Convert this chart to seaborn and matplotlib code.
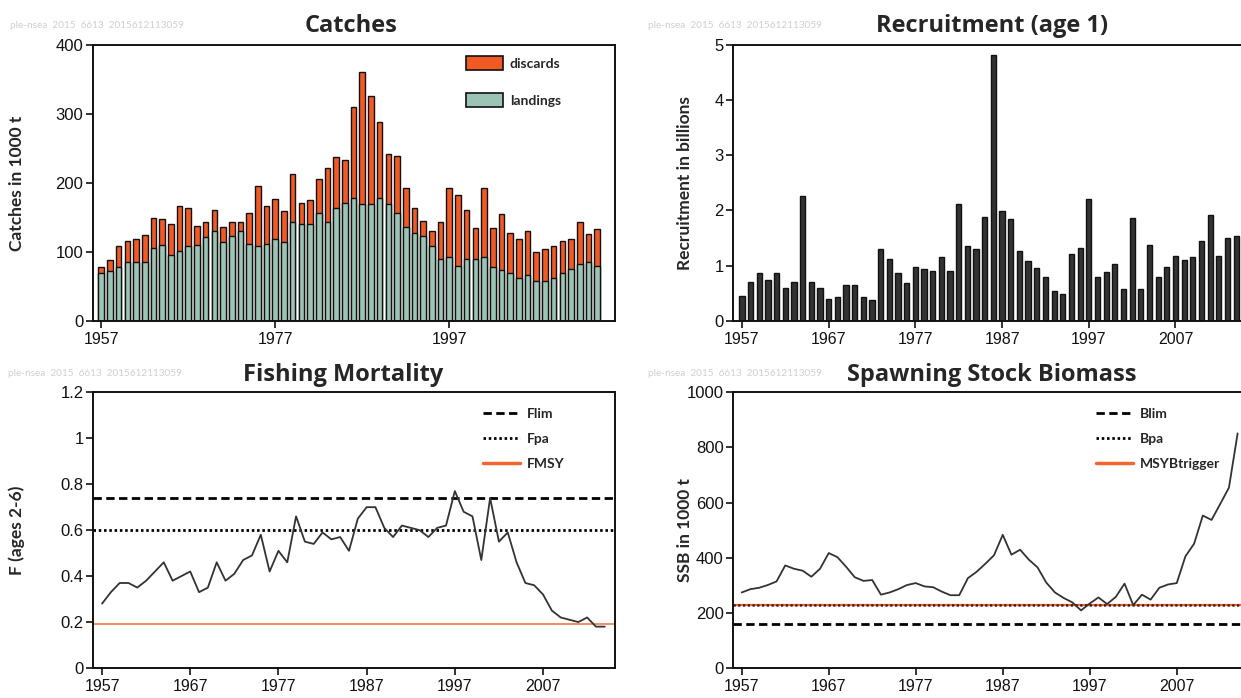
import numpy as np
import pandas as pd
import matplotlib
matplotlib.use("Agg")
import matplotlib.pyplot as plt
from matplotlib.patches import Patch
from matplotlib.lines import Line2D
import seaborn as sns

# ---------------- data ----------------
years = list(range(1957, 2015))

landings = [70, 72, 78, 86, 86, 86, 106, 110, 96, 102, 108, 110, 121, 130, 114, 123, 131, 112, 108, 112,
            118, 114, 144, 140, 140, 157, 144, 164, 171, 178, 169, 169, 178, 169, 157, 136, 128, 123, 108, 90,
            92, 80, 90, 90, 92, 78, 74, 70, 62, 66, 58, 58, 62, 70, 76, 82, 86, 80]
catches_total = [78, 88, 109, 116, 119, 124, 149, 147, 141, 167, 163, 138, 143, 161, 136, 143, 143, 157, 195, 167,
                 177, 159, 213, 171, 175, 205, 221, 237, 233, 310, 360, 326, 288, 242, 239, 193, 163, 145, 130, 143,
                 193, 183, 161, 135, 193, 135, 155, 128, 119, 130, 100, 104, 109, 116, 119, 143, 126, 133]

recruitment = [0.46, 0.71, 0.86, 0.75, 0.86, 0.60, 0.71, 2.27, 0.71, 0.60, 0.40, 0.43, 0.65, 0.65, 0.43, 0.38,
               1.31, 1.13, 0.86, 0.68, 0.98, 0.94, 0.91, 1.16, 0.91, 2.12, 1.36, 1.31, 1.89, 4.81, 1.99, 1.84,
               1.26, 1.09, 0.96, 0.80, 0.55, 0.48, 1.21, 1.33, 2.21, 0.80, 0.88, 1.03, 0.58, 1.86, 0.58, 1.38,
               0.80, 0.98, 1.18, 1.11, 1.16, 1.44, 1.91, 1.18, 1.51, 1.53]

fishing_mortality = [0.28, 0.33, 0.37, 0.37, 0.35, 0.38, 0.42, 0.46, 0.38, 0.40, 0.42, 0.33, 0.35, 0.46, 0.38, 0.41,
                     0.47, 0.49, 0.58, 0.42, 0.51, 0.46, 0.66, 0.55, 0.54, 0.59, 0.56, 0.57, 0.51, 0.65, 0.70, 0.70,
                     0.61, 0.57, 0.62, 0.61, 0.60, 0.57, 0.61, 0.62, 0.77, 0.68, 0.66, 0.47, 0.74, 0.55, 0.59, 0.46,
                     0.37, 0.36, 0.32, 0.25, 0.22, 0.21, 0.20, 0.22, 0.18, 0.18]

ssb = [274, 286, 291, 301, 314, 372, 360, 353, 331, 360, 417, 402, 367, 329, 316, 319, 266, 274, 286, 301,
       308, 296, 293, 277, 264, 264, 326, 349, 378, 409, 483, 411, 429, 393, 365, 310, 274, 254, 238, 209,
       234, 256, 232, 258, 306, 228, 266, 248, 291, 303, 308, 405, 451, 553, 537, 595, 654, 851]

Flim, Fpa, FMSY = 0.74, 0.60, 0.19
Blim, Bpa, MSYBtrigger = 160, 230, 230

catch_ticks = [1957, 1977, 1997]
decade_ticks = [1957, 1967, 1977, 1987, 1997, 2007]
watermark = "ple-nsea  2015  6613  2015612113059"

# ---------------- style ----------------
sns.set_style("ticks")
plt.rcParams['font.family'] = ['Liberation Sans', 'DejaVu Sans']
plt.rcParams['axes.linewidth'] = 1.4
plt.rcParams['xtick.major.width'] = 1.2
plt.rcParams['ytick.major.width'] = 1.2
plt.rcParams['xtick.major.size'] = 5
plt.rcParams['ytick.major.size'] = 5
plt.rcParams['xtick.direction'] = 'out'
plt.rcParams['ytick.direction'] = 'out'

W, H = 1241, 698
fig = plt.figure(figsize=(W / 100, H / 100), dpi=100)

def px_axes(x0, y0, x1, y1):
    return fig.add_axes([x0 / W, 1 - y1 / H, (x1 - x0) / W, (y1 - y0) / H])

ORANGE = "#f15a24"
GREEN = "#9cc4b4"
TITLE_FONT = dict(family=['Open Sans', 'DejaVu Sans'], weight='bold')
LABEL_FONT = dict(family=['Lato', 'DejaVu Sans'], weight='bold')
LEG_PROP = dict(family=['Lato'], weight='bold', size=10)
XT, YT = 11.5, 12

df_c = pd.DataFrame({"year": years, "landings": landings, "total": catches_total})
df_r = pd.DataFrame({"year": years, "recruitment": recruitment})
df_f = pd.DataFrame({"year": years, "F": fishing_mortality})
df_s = pd.DataFrame({"year": years, "SSB": ssb})

def style_axes(ax, right=True):
    for s in ['left', 'bottom', 'top', 'right']:
        ax.spines[s].set_visible(True)
        ax.spines[s].set_color('#111111')
    if not right:
        ax.spines['right'].set_visible(False)
    ax.tick_params(axis='x', labelsize=XT, colors='#111111', pad=3)
    ax.tick_params(axis='y', labelsize=YT, colors='#111111', pad=2)
    ax.grid(False)

def ylabel(ax, text, xpx, ypx):
    ax.set_ylabel(text, fontsize=12.5, **LABEL_FONT)
    ax.yaxis.set_label_coords(xpx / W, 1 - ypx / H, transform=fig.transFigure)

# ---- Catches ----
ax1 = px_axes(93, 44.7, 615, 321)
sns.barplot(data=df_c, x="year", y="total", native_scale=True, width=0.65, color=ORANGE,
            saturation=1, edgecolor="#111111", linewidth=1.0, errorbar=None, ax=ax1)
sns.barplot(data=df_c, x="year", y="landings", native_scale=True, width=0.65, color=GREEN,
            saturation=1, edgecolor="#111111", linewidth=1.0, errorbar=None, ax=ax1)
ax1.set_xlim(1956.05, 2016.05)
ax1.set_ylim(0, 400)
ax1.set_xticks(catch_ticks)
ax1.set_xticklabels([str(t) for t in catch_ticks])
ax1.set_yticks([0, 100, 200, 300, 400])
ax1.set_xlabel("")
style_axes(ax1)
ylabel(ax1, "Catches in 1000 t", 25, 183)
ax1.legend(handles=[Patch(facecolor=ORANGE, edgecolor='#111111', linewidth=1.2, label='discards'),
                    Patch(facecolor=GREEN, edgecolor='#111111', linewidth=1.2, label='landings')],
           loc='upper left', bbox_to_anchor=(466 / W, 1 - 56 / H), bbox_transform=fig.transFigure,
           frameon=False, handlelength=2.66, handleheight=1.22, handletextpad=0.5,
           labelspacing=1.62, borderpad=0, borderaxespad=0, prop=LEG_PROP)

# ---- Recruitment ----
ax2 = px_axes(733.3, 44.7, 1300, 321)
sns.barplot(data=df_r, x="year", y="recruitment", native_scale=True, width=0.6, color="#333333",
            saturation=1, edgecolor="#111111", linewidth=1.0, errorbar=None, ax=ax2)
ax2.set_xlim(1956.0, 2021.36)
ax2.set_ylim(0, 5)
ax2.set_xticks(decade_ticks)
ax2.set_xticklabels([str(t) for t in decade_ticks])
ax2.set_yticks([0, 1, 2, 3, 4, 5])
ax2.set_xlabel("")
style_axes(ax2, right=False)
ylabel(ax2, "Recruitment in billions", 693, 183)

# ---- Fishing mortality ----
ax3 = px_axes(93.3, 392.3, 615, 668)
ax3.axhline(Flim, color='black', lw=2.0, linestyle=(0, (3, 1.6)))
ax3.axhline(Fpa, color='black', lw=2.0, linestyle=(0, (0.9, 1.0)))
ax3.axhline(FMSY, color='#f38a64', lw=1.4)
sns.lineplot(data=df_f, x="year", y="F", color='#333333', lw=1.3, ax=ax3)
ax3.set_xlim(1956.01, 2015.16)
ax3.set_ylim(0, 1.2)
ax3.set_xticks(decade_ticks)
ax3.set_xticklabels([str(t) for t in decade_ticks])
ax3.set_yticks([0, 0.2, 0.4, 0.6, 0.8, 1.0, 1.2])
ax3.set_yticklabels(["0", "0.2", "0.4", "0.6", "0.8", "1", "1.2"])
ax3.set_xlabel("")
style_axes(ax3)
ylabel(ax3, "F (ages 2-6)", 25, 530)
ax3.legend(handles=[Line2D([], [], color='black', lw=2.0, linestyle=(0, (3, 1.6)), label='Flim'),
                    Line2D([], [], color='black', lw=2.0, linestyle=(0, (0.9, 1.0)), label='Fpa'),
                    Line2D([], [], color='#f26430', lw=2.5, label='FMSY')],
           loc='upper left', bbox_to_anchor=(483 / W, 1 - 408 / H), bbox_transform=fig.transFigure,
           frameon=False, handlelength=2.66, handletextpad=0.5, labelspacing=0.92, borderpad=0,
           borderaxespad=0, prop=LEG_PROP)

# ---- SSB ----
ax4 = px_axes(733.3, 392.3, 1300, 668)
ax4.axhline(Blim, color='black', lw=2.0, linestyle=(0, (3, 1.6)))
ax4.axhline(MSYBtrigger, color='#f26430', lw=1.6)
ax4.axhline(Bpa, color='black', lw=1.8, linestyle=(0, (0.9, 1.0)), alpha=0.75)
sns.lineplot(data=df_s, x="year", y="SSB", color='#333333', lw=1.3, ax=ax4)
ax4.set_xlim(1956.03, 2021.17)
ax4.set_ylim(0, 1000)
ax4.set_xticks(decade_ticks)
ax4.set_xticklabels([str(t) for t in decade_ticks])
ax4.set_yticks([0, 200, 400, 600, 800, 1000])
ax4.set_xlabel("")
style_axes(ax4, right=False)
ylabel(ax4, "SSB in 1000 t", 693, 530)
ax4.legend(handles=[Line2D([], [], color='black', lw=2.0, linestyle=(0, (3, 1.6)), label='Blim'),
                    Line2D([], [], color='black', lw=2.0, linestyle=(0, (0.9, 1.0)), label='Bpa'),
                    Line2D([], [], color='#f26430', lw=2.5, label='MSYBtrigger')],
           loc='upper left', bbox_to_anchor=(1096 / W, 1 - 408 / H), bbox_transform=fig.transFigure,
           frameon=False, handlelength=2.66, handletextpad=0.5, labelspacing=0.92, borderpad=0,
           borderaxespad=0, prop=LEG_PROP)

# ---- titles & watermarks ----
titles = [("Catches", 351, 26), ("Recruitment (age 1)", 992, 26),
          ("Fishing Mortality", 343, 375), ("Spawning Stock Biomass", 992, 375)]
for text, x, y in titles:
    fig.text(x / W, 1 - y / H, text, ha='center', va='center', fontsize=17, **TITLE_FONT)
for x, y in [(10, 25), (648, 25), (8, 374), (648, 374)]:
    fig.text(x / W, 1 - y / H, watermark, ha='left', va='center', fontsize=7.2,
             family=['Lato', 'DejaVu Sans'], color='#cfcfcf')

fig.savefig("out.png", dpi=100)
